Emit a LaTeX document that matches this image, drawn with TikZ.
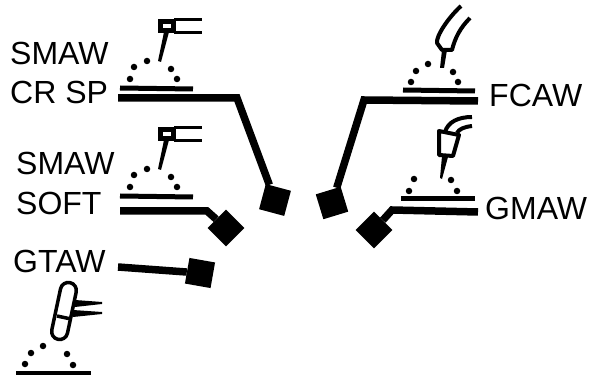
\documentclass[tikz,border=0pt]{standalone}
\usepackage{fontspec}
\setmainfont{Liberation Sans}
\tikzset{
	label/.style={inner sep=0pt,anchor=base west,font=\fontsize{32}{32}\selectfont},
	head/.style={draw=none,fill=black,inner sep=0pt,minimum size=26pt},
	lead/.style={line width=7.5pt,line join=miter},
	plate/.style={line width=5pt},
	spatter/.style={circle,fill=black,inner sep=0pt,minimum size=6.5pt},
	torch/.style={line width=3.5pt,line join=round}
}
\begin{document}
\begin{tikzpicture}[x=1pt,y=-1pt]
\useasboundingbox (0,0) rectangle (589,379);
% labels
\node[label] (SM1) at (10,65) {SMAW};
\node[label] (CR) at (10,104) {CR SP};
\node[label] (SM2) at (16,175) {SMAW};
\node[label] (SO) at (16,215) {SOFT};
\node[label] (GT) at (13,273) {GTAW};
\node[label] (FC) at (489,107) {FCAW};
\node[label] (GM) at (485,220) {GMAW};
% heads
\node[head,rotate=-15] (H1) at (275,200) {};
\node[head,rotate=45] (H2) at (226,228) {};
\node[head,rotate=-10] (H3) at (200,273) {};
\node[head,rotate=17] (H4) at (332,203) {};
\node[head,rotate=45] (H5) at (374,230) {};
% leads
\coordinate (L1) at (118,98);
\coordinate (B1) at (237,98);
\coordinate (L2) at (120,211);
\coordinate (B2) at (207,211);
\coordinate (L3) at (118,267);
\coordinate (L4) at (478,101);
\coordinate (B4) at (364,100);
\coordinate (L5) at (478,212);
\coordinate (B5) at (392,210);
\draw[lead] (L1)--(B1)--(H1);
\draw[lead] (L2)--(B2)--(H2);
\draw[lead] (L3)--(H3);
\draw[lead] (L4)--(B4)--(H4);
\draw[lead] (L5)--(B5)--(H5);
% stick torches
\foreach \dy in {0,108} {
	\begin{scope}[shift={(0,\dy)}]
		\draw[line width=5pt] (160,22) rectangle (173,31);
		\draw[line width=3pt] (174,20)--(202,20);
		\draw[line width=3pt] (174,33)--(202,33);
		\fill (164,32)--(169,32)--(161,62)--(158,61)--cycle;
		\draw[plate] (120,88)--(193,89);
		\foreach \x/\y [count=\i] in {130/79,134/67,147/61,171/69,177/79}
			\node[spatter] (D\i) at (\x,\y) {};
	\end{scope}
}
% GTAW torch
\begin{scope}
	\draw[torch,rounded corners=8pt,rotate around={-12:(64,311)}] (56,282) rectangle (72,340);
	\draw[torch] (57,316)--(71,319);
	\fill (75,300)--(102,302)--(102,304)--(75,307)--cycle;
	\fill (73,310)--(102,312)--(102,314)--(73,317)--cycle;
	\draw[line width=4pt] (16,373)--(91,373);
	\foreach \x/\y [count=\i] in {25/364,31/353,43/346,67/354,73/365}
		\node[spatter] (D\i) at (\x,\y) {};
\end{scope}
% FCAW torch
\begin{scope}
	\draw[torch,line width=4pt] (461,6) .. controls (448,18) and (436,36) .. (437,43) -- (442,50) -- (452,50) .. controls (455,38) and (460,28) .. (470,18);
	\fill (442,50)--(447,50)--(444,68)--(440,68)--cycle;
	\draw[plate] (403,90)--(475,91);
	\foreach \x/\y [count=\i] in {411/82,416/71,428/64,453/72,458/82}
		\node[spatter] (D\i) at (\x,\y) {};
\end{scope}
% GMAW torch
\begin{scope}
	\draw[torch,line width=4pt] (439,131)--(459,135)--(453,156)--(439,155)--cycle;
	\draw[torch,line width=4pt] (445,132) .. controls (448,122) and (458,117) .. (472,117);
	\draw[torch,line width=4pt] (457,133) .. controls (459,129) and (464,127) .. (472,126);
	\fill (442,156)--(448,157)--(442,179)--(440,178)--cycle;
	\draw[plate] (401,199)--(475,199);
	\foreach \x/\y [count=\i] in {409/191,414/179,451/180,457/191}
		\node[spatter] (D\i) at (\x,\y) {};
\end{scope}
\end{tikzpicture}
\end{document}
